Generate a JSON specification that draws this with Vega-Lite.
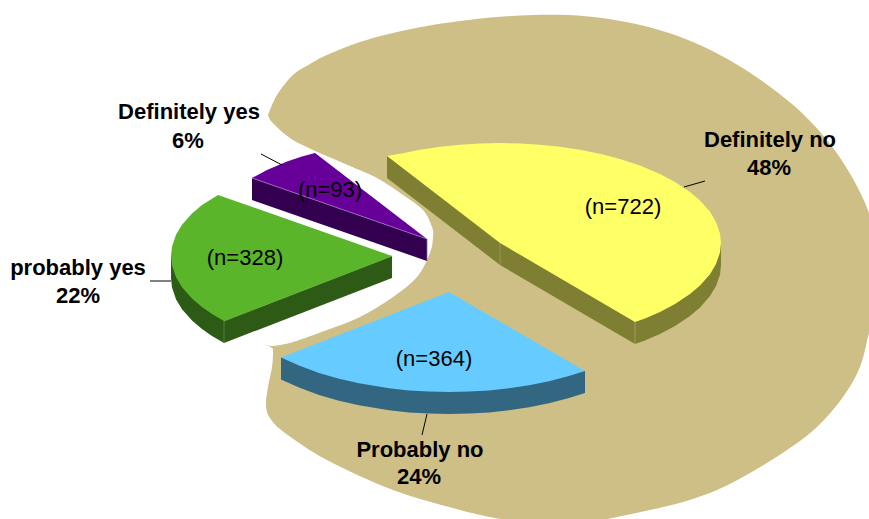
{"$schema":"https://vega.github.io/schema/vega-lite/v6.json","width":869,"height":519,"padding":0,"autosize":{"type":"fit","contains":"padding"},"background":"white","view":{"stroke":null},
"datasets":{
"backdrop":[{"i":1,"x":268,"y":115},{"i":2,"x":277,"y":95},{"i":3,"x":293,"y":75},{"i":4,"x":310,"y":64},{"i":5,"x":327,"y":55},{"i":6,"x":360,"y":42},{"i":7,"x":393,"y":33},{"i":8,"x":427,"y":26},{"i":9,"x":460,"y":21},{"i":10,"x":497,"y":17},{"i":11,"x":533,"y":15},{"i":12,"x":569,"y":15},{"i":13,"x":602,"y":18},{"i":14,"x":636,"y":24},{"i":15,"x":669,"y":33},{"i":16,"x":702,"y":46},{"i":17,"x":736,"y":64},{"i":18,"x":769,"y":86},{"i":19,"x":802,"y":113},{"i":20,"x":830,"y":144},{"i":21,"x":852,"y":177},{"i":22,"x":869,"y":213},{"i":23,"x":878,"y":250},{"i":24,"x":880,"y":285},{"i":25,"x":876,"y":310},{"i":26,"x":869,"y":333},{"i":27,"x":860,"y":367},{"i":28,"x":843,"y":397},{"i":29,"x":817,"y":427},{"i":30,"x":787,"y":450},{"i":31,"x":750,"y":473},{"i":32,"x":717,"y":490},{"i":33,"x":683,"y":502},{"i":34,"x":650,"y":510},{"i":35,"x":617,"y":517},{"i":36,"x":580,"y":524},{"i":37,"x":540,"y":526},{"i":38,"x":500,"y":519},{"i":39,"x":460,"y":510},{"i":40,"x":393,"y":490},{"i":41,"x":327,"y":460},{"i":42,"x":285,"y":433},{"i":43,"x":270,"y":418},{"i":44,"x":266,"y":405},{"i":45,"x":268,"y":387},{"i":46,"x":272,"y":367},{"i":47,"x":273,"y":352},{"i":48,"x":272,"y":348},{"i":49,"x":265,"y":344},{"i":50,"x":273,"y":346},{"i":51,"x":293,"y":342},{"i":52,"x":327,"y":330},{"i":53,"x":360,"y":317},{"i":54,"x":393,"y":297},{"i":55,"x":417,"y":277},{"i":56,"x":430,"y":253},{"i":57,"x":433,"y":237},{"i":58,"x":432,"y":227},{"i":59,"x":423,"y":210},{"i":60,"x":403,"y":195},{"i":61,"x":377,"y":178},{"i":62,"x":343,"y":163},{"i":63,"x":313,"y":150},{"i":64,"x":293,"y":140},{"i":65,"x":280,"y":130},{"i":66,"x":270,"y":120}],
"slices":[
{"part":"Definitely no side","i":1,"x":387,"y":156},{"part":"Definitely no side","i":2,"x":387,"y":178},{"part":"Definitely no side","i":3,"x":500,"y":265},{"part":"Definitely no side","i":4,"x":635,"y":344},{"part":"Definitely no side","i":5,"x":645,"y":340.5},{"part":"Definitely no side","i":6,"x":660,"y":334},{"part":"Definitely no side","i":7,"x":675,"y":326},{"part":"Definitely no side","i":8,"x":690,"y":316},{"part":"Definitely no side","i":9,"x":700,"y":307.5},{"part":"Definitely no side","i":10,"x":710,"y":296},{"part":"Definitely no side","i":11,"x":716,"y":286},{"part":"Definitely no side","i":12,"x":720,"y":274.5},{"part":"Definitely no side","i":13,"x":721,"y":265},{"part":"Definitely no side","i":14,"x":721,"y":243},
{"part":"Definitely no top","i":1,"x":387,"y":156},{"part":"Definitely no top","i":2,"x":400,"y":153.8},{"part":"Definitely no top","i":3,"x":420,"y":149.8},{"part":"Definitely no top","i":4,"x":440,"y":146.8},{"part":"Definitely no top","i":5,"x":460,"y":144.7},{"part":"Definitely no top","i":6,"x":480,"y":143.4},{"part":"Definitely no top","i":7,"x":500,"y":143},{"part":"Definitely no top","i":8,"x":520,"y":143.4},{"part":"Definitely no top","i":9,"x":540,"y":144.7},{"part":"Definitely no top","i":10,"x":560,"y":146.8},{"part":"Definitely no top","i":11,"x":580,"y":149.8},{"part":"Definitely no top","i":12,"x":600,"y":153.8},{"part":"Definitely no top","i":13,"x":620,"y":159},{"part":"Definitely no top","i":14,"x":640,"y":165.6},{"part":"Definitely no top","i":15,"x":660,"y":174},{"part":"Definitely no top","i":16,"x":675,"y":181.9},{"part":"Definitely no top","i":17,"x":690,"y":191.9},{"part":"Definitely no top","i":18,"x":700,"y":200.5},{"part":"Definitely no top","i":19,"x":710,"y":211.8},{"part":"Definitely no top","i":20,"x":716,"y":221.9},{"part":"Definitely no top","i":21,"x":720,"y":233.5},{"part":"Definitely no top","i":22,"x":721,"y":243},{"part":"Definitely no top","i":23,"x":720,"y":252.5},{"part":"Definitely no top","i":24,"x":716,"y":264.1},{"part":"Definitely no top","i":25,"x":710,"y":274.2},{"part":"Definitely no top","i":26,"x":700,"y":285.5},{"part":"Definitely no top","i":27,"x":690,"y":294.1},{"part":"Definitely no top","i":28,"x":675,"y":304.1},{"part":"Definitely no top","i":29,"x":660,"y":312},{"part":"Definitely no top","i":30,"x":645,"y":318.5},{"part":"Definitely no top","i":31,"x":635,"y":322},{"part":"Definitely no top","i":32,"x":500,"y":243},
{"part":"Definitely yes side","i":1,"x":252,"y":178},{"part":"Definitely yes side","i":2,"x":252,"y":200},{"part":"Definitely yes side","i":3,"x":427,"y":261},{"part":"Definitely yes side","i":4,"x":427,"y":239},
{"part":"Definitely yes top","i":1,"x":252,"y":178},{"part":"Definitely yes top","i":2,"x":267,"y":170},{"part":"Definitely yes top","i":3,"x":287,"y":161.6},{"part":"Definitely yes top","i":4,"x":302,"y":156.5},{"part":"Definitely yes top","i":5,"x":315,"y":153},{"part":"Definitely yes top","i":6,"x":427,"y":239},
{"part":"Probably no side","i":1,"x":281,"y":357.5},{"part":"Probably no side","i":2,"x":281,"y":379.5},{"part":"Probably no side","i":3,"x":299,"y":387.4},{"part":"Probably no side","i":4,"x":319,"y":394.9},{"part":"Probably no side","i":5,"x":339,"y":400.7},{"part":"Probably no side","i":6,"x":359,"y":405.3},{"part":"Probably no side","i":7,"x":389,"y":410.2},{"part":"Probably no side","i":8,"x":409,"y":412.4},{"part":"Probably no side","i":9,"x":429,"y":413.6},{"part":"Probably no side","i":10,"x":449,"y":414},{"part":"Probably no side","i":11,"x":469,"y":413.6},{"part":"Probably no side","i":12,"x":489,"y":412.4},{"part":"Probably no side","i":13,"x":509,"y":410.2},{"part":"Probably no side","i":14,"x":529,"y":407.2},{"part":"Probably no side","i":15,"x":549,"y":403.2},{"part":"Probably no side","i":16,"x":569,"y":398},{"part":"Probably no side","i":17,"x":585,"y":393},{"part":"Probably no side","i":18,"x":585,"y":371},
{"part":"Probably no top","i":1,"x":449,"y":292},{"part":"Probably no top","i":2,"x":281,"y":357.5},{"part":"Probably no top","i":3,"x":299,"y":365.4},{"part":"Probably no top","i":4,"x":319,"y":372.9},{"part":"Probably no top","i":5,"x":339,"y":378.7},{"part":"Probably no top","i":6,"x":359,"y":383.3},{"part":"Probably no top","i":7,"x":389,"y":388.2},{"part":"Probably no top","i":8,"x":409,"y":390.4},{"part":"Probably no top","i":9,"x":429,"y":391.6},{"part":"Probably no top","i":10,"x":449,"y":392},{"part":"Probably no top","i":11,"x":469,"y":391.6},{"part":"Probably no top","i":12,"x":489,"y":390.4},{"part":"Probably no top","i":13,"x":509,"y":388.2},{"part":"Probably no top","i":14,"x":529,"y":385.2},{"part":"Probably no top","i":15,"x":549,"y":381.2},{"part":"Probably no top","i":16,"x":569,"y":376},{"part":"Probably no top","i":17,"x":585,"y":371},
{"part":"probably yes side","i":1,"x":171,"y":256},{"part":"probably yes side","i":2,"x":171,"y":278},{"part":"probably yes side","i":3,"x":172,"y":287.5},{"part":"probably yes side","i":4,"x":176,"y":299.2},{"part":"probably yes side","i":5,"x":182,"y":309.2},{"part":"probably yes side","i":6,"x":192,"y":320.5},{"part":"probably yes side","i":7,"x":202,"y":329},{"part":"probably yes side","i":8,"x":212,"y":336},{"part":"probably yes side","i":9,"x":224,"y":343},{"part":"probably yes side","i":10,"x":392,"y":278},{"part":"probably yes side","i":11,"x":392,"y":256},
{"part":"probably yes top","i":1,"x":218,"y":195},{"part":"probably yes top","i":2,"x":202,"y":205},{"part":"probably yes top","i":3,"x":192,"y":213.5},{"part":"probably yes top","i":4,"x":182,"y":224.8},{"part":"probably yes top","i":5,"x":176,"y":234.8},{"part":"probably yes top","i":6,"x":172,"y":246.5},{"part":"probably yes top","i":7,"x":171,"y":256},{"part":"probably yes top","i":8,"x":172,"y":265.5},{"part":"probably yes top","i":9,"x":176,"y":277.2},{"part":"probably yes top","i":10,"x":182,"y":287.2},{"part":"probably yes top","i":11,"x":192,"y":298.5},{"part":"probably yes top","i":12,"x":202,"y":307},{"part":"probably yes top","i":13,"x":212,"y":314},{"part":"probably yes top","i":14,"x":224,"y":321},{"part":"probably yes top","i":15,"x":392,"y":256}],
"edges":[
{"edge":"purple front","i":1,"x":252,"y":178},{"edge":"purple front","i":2,"x":427,"y":239},
{"edge":"purple corner","i":1,"x":427,"y":239},{"edge":"purple corner","i":2,"x":427,"y":261},
{"edge":"green corner","i":1,"x":224,"y":321},{"edge":"green corner","i":2,"x":224,"y":343},
{"edge":"green front","i":1,"x":224,"y":321},{"edge":"green front","i":2,"x":392,"y":256},
{"edge":"yellow apex","i":1,"x":500,"y":243},{"edge":"yellow apex","i":2,"x":500,"y":265},
{"edge":"yellow corner","i":1,"x":635,"y":322},{"edge":"yellow corner","i":2,"x":635,"y":344}],
"leaders":[
{"label":"Definitely yes","i":1,"x":261,"y":154},{"label":"Definitely yes","i":2,"x":282,"y":165},
{"label":"probably yes","i":1,"x":150,"y":281},{"label":"probably yes","i":2,"x":171,"y":281},
{"label":"Probably no","i":1,"x":427,"y":414},{"label":"Probably no","i":2,"x":422,"y":435},
{"label":"Definitely no","i":1,"x":684,"y":187},{"label":"Definitely no","i":2,"x":705,"y":181}],
"names":[
{"t":"Definitely yes","x":189,"y":112},{"t":"6%","x":188,"y":141},
{"t":"probably yes","x":78,"y":268},{"t":"22%","x":78,"y":296},
{"t":"Definitely no","x":770,"y":140},{"t":"48%","x":769,"y":168},
{"t":"Probably no","x":420,"y":450},{"t":"24%","x":419,"y":477}],
"counts":[
{"t":"(n=722)","x":623,"y":207},{"t":"(n=93)","x":330,"y":190},{"t":"(n=328)","x":245,"y":258},{"t":"(n=364)","x":434,"y":359}]
},
"encoding":{
"x":{"field":"x","type":"quantitative","scale":{"domain":[0,869],"nice":false,"zero":false},"axis":null},
"y":{"field":"y","type":"quantitative","scale":{"domain":[519,0],"nice":false,"zero":false},"axis":null}},
"layer":[
{"data":{"name":"backdrop"},"mark":{"type":"line","filled":true,"fill":"#CDBF85","stroke":null,"interpolate":"cardinal","clip":true},"encoding":{"order":{"field":"i","type":"quantitative"}}},
{"data":{"name":"slices"},"mark":{"type":"line","filled":true,"stroke":null,"clip":true},"encoding":{"order":{"field":"i","type":"quantitative"},"fill":{"field":"part","type":"nominal","legend":null,"scale":{"domain":["Definitely no side","Definitely no top","Definitely yes side","Definitely yes top","Probably no side","Probably no top","probably yes side","probably yes top"],"range":["#7F7F33","#FFFF66","#330050","#660099","#336680","#66CCFF","#2D5A15","#5AB52A"]}}}},
{"data":{"name":"edges"},"mark":{"type":"line","strokeWidth":0.8,"clip":true},"encoding":{"order":{"field":"i","type":"quantitative"},"stroke":{"field":"edge","type":"nominal","legend":null,"scale":{"domain":["purple front","purple corner","green corner","green front","yellow apex","yellow corner"],"range":["#9C72C0","#8C66AD","#5F8A4A","#6FBB45","#A09C55","#A9A565"]}}}},
{"data":{"name":"leaders"},"mark":{"type":"line","color":"black","strokeWidth":1,"clip":true},"encoding":{"detail":{"field":"label"},"order":{"field":"i","type":"quantitative"}}},
{"data":{"name":"names"},"mark":{"type":"text","font":"Liberation Sans","fontWeight":"bold","fontSize":22,"color":"black","align":"center","baseline":"middle"},"encoding":{"text":{"field":"t"}}},
{"data":{"name":"counts"},"mark":{"type":"text","font":"Liberation Sans","fontSize":22,"color":"black","align":"center","baseline":"middle"},"encoding":{"text":{"field":"t"}}}
]}
